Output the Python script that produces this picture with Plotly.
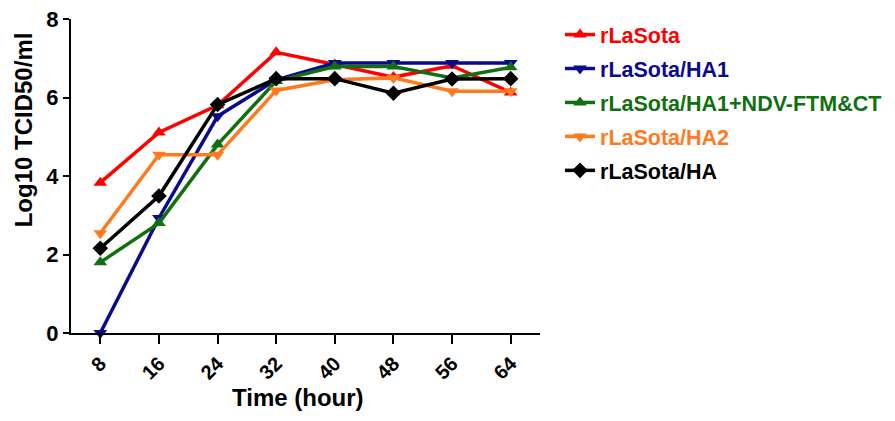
import plotly.graph_objects as go

hours = [8, 16, 24, 32, 40, 48, 56, 64]
series_names = ["rLaSota", "rLaSota/HA1", "rLaSota/HA1+NDV-FTM&CT", "rLaSota/HA2", "rLaSota/HA"]
rlasota = [3.83, 5.11, 5.80, 7.15, 6.84, 6.52, 6.81, 6.13]
rlasota_ha1 = [0.0, 2.93, 5.52, 6.45, 6.88, 6.88, 6.88, 6.88]
rlasota_ha1_ndv = [1.80, 2.80, 4.80, 6.42, 6.79, 6.79, 6.50, 6.77]
rlasota_ha2 = [2.54, 4.54, 4.54, 6.18, 6.45, 6.50, 6.16, 6.16]
rlasota_ha = [2.16, 3.49, 5.82, 6.48, 6.48, 6.11, 6.47, 6.48]
y_ticks = [0, 2, 4, 6, 8]
x_title = "Time (hour)"
y_title = "Log10 TCID50/ml"

colors = ["#FF0000", "#0A0A8C", "#107010", "#FF7A1F", "#000000"]
symbols = ["triangle-up", "triangle-down", "triangle-up", "triangle-down", "diamond"]
values = [rlasota, rlasota_ha1, rlasota_ha1_ndv, rlasota_ha2, rlasota_ha]

FONT = "Arial, Liberation Sans, sans-serif"
fig = go.Figure()
for i, (name, vals) in enumerate(zip(series_names, values)):
    fig.add_trace(go.Scatter(
        x=hours, y=vals,
        name=f'<span style="color:{colors[i]}">{name}</span>',
        mode="lines+markers",
        line=dict(color=colors[i], width=3.5),
        marker=dict(symbol=symbols[i], size=12, color=colors[i]),
        legendgroup=f"g{i}", cliponaxis=False,
    ))

# page body has an 8px default margin, so the figure is sized to fit inside it
fig.update_layout(
    width=879, height=405,
    margin=dict(l=63, r=347, t=11, b=80),
    plot_bgcolor="white", paper_bgcolor="white",
    font=dict(family=FONT, color="black"),
    showlegend=True,
    legend=dict(
        xref="container", yref="container",
        x=0.628, y=0.985, xanchor="left", yanchor="top",
        font=dict(family=FONT, size=21.5, weight="bold"),
        tracegroupgap=3, traceorder="grouped",
        bgcolor="rgba(0,0,0,0)", itemwidth=30,
    ),
    xaxis=dict(
        range=[4, 68], tickvals=hours, ticktext=[str(h) for h in hours],
        tickangle=-45, showline=True, linecolor="black", linewidth=2,
        ticks="outside", ticklen=9, tickwidth=2, tickcolor="black",
        showgrid=False, zeroline=False, automargin=False,
        ticklabeloverflow="allow",
        tickfont=dict(family=FONT, size=20, weight="bold"),
    ),
    yaxis=dict(
        range=[0, 8], tickvals=y_ticks, showline=True, linecolor="black", linewidth=2,
        ticks="outside", ticklen=6, tickwidth=2, tickcolor="black",
        showgrid=False, zeroline=False, automargin=False,
        ticklabeloverflow="allow",
        tickfont=dict(family=FONT, size=22, weight="bold"),
    ),
    annotations=[
        dict(text=x_title, xref="paper", yref="paper", x=0.484, y=-0.205,
             xanchor="center", yanchor="middle", showarrow=False,
             font=dict(family=FONT, size=24, weight="bold")),
        dict(text=y_title, xref="paper", yref="paper", x=-0.102, y=0.646,
             xanchor="center", yanchor="middle", showarrow=False, textangle=-90,
             font=dict(family=FONT, size=24, weight="bold")),
    ],
)

fig.write_html("out.html")
